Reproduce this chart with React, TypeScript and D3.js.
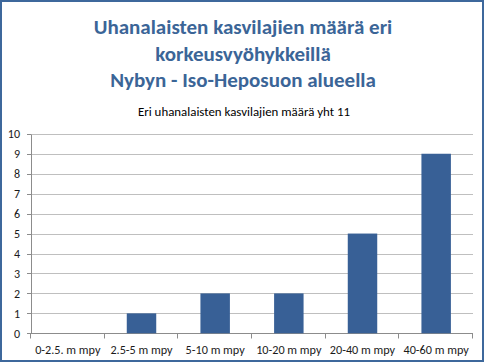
import React from 'react';
import * as d3 from 'd3';

const categories = ['0-2.5. m mpy', '2.5-5 m mpy', '5-10 m mpy', '10-20 m mpy', '20-40 m mpy', '40-60 m mpy'];
const counts = [0, 1, 2, 2, 5, 9];
const yTicks = [0, 1, 2, 3, 4, 5, 6, 7, 8, 9, 10];
const titleLines = ['Uhanalaisten kasvilajien määrä eri', 'korkeusvyöhykkeillä', 'Nybyn - Iso-Heposuon alueella'];
const subtitle = 'Eri uhanalaisten kasvilajien määrä yht 11';

const W = 487;
const H = 364;
const font = 'Carlito, Calibri, "Open Sans", sans-serif';

export default function App() {
  const x = d3.scaleBand().domain(categories).range([31, 473]).padding(0);
  const y = d3.scaleLinear().domain([0, 10]).range([333.3, 133.8]);
  const barW = x.bandwidth() * 0.4;
  const py = (v: number) => Math.round(y(v)) + 0.5;

  return (
    <svg width={W} height={H} style={{ position: 'absolute', left: 0, top: 0 }} fontFamily={font}>
      <rect x={0} y={0} width={W} height={H} fill="#fff" />
      <rect x={1} y={1} width={482} height={360} fill="none" stroke="#3d689c" strokeWidth={2} />
      {titleLines.map((t, i) => (
        <text key={t} x={243} y={34 + i * 26.5} textAnchor="middle" fontSize={21} fontWeight="bold" fill="#3b6597">
          {t}
        </text>
      ))}
      <text x={244} y={116} textAnchor="middle" fontSize={12.9} fill="#000">{subtitle}</text>

      {/* gridlines + y axis */}
      {yTicks.map(t => (
        <g key={t}>
          {t > 0 && <line x1={31} x2={473} y1={py(t)} y2={py(t)} stroke="#bfbfbf" />}
          <line x1={27} x2={31} y1={py(t)} y2={py(t)} stroke="#8c8c8c" />
          <text x={20} y={y(t) + 4.2} textAnchor="end" fontSize={12} fill="#1a1a1a">{t}</text>
        </g>
      ))}
      <line x1={31.5} x2={31.5} y1={py(10)} y2={py(0)} stroke="#8c8c8c" />
      <line x1={31} x2={473} y1={py(0)} y2={py(0)} stroke="#8c8c8c" />

      {/* x ticks */}
      {[...categories.map(c => x(c)!), 473].map((v, i) => (
        <line key={i} x1={Math.round(v) - 0.5} x2={Math.round(v) - 0.5} y1={py(0)} y2={py(0) + 5} stroke="#8c8c8c" />
      ))}

      {/* bars */}
      {categories.map((c, i) => (
        counts[i] > 0 ? (
          <rect key={c} x={x(c)! + (x.bandwidth() - barW) / 2} y={y(counts[i])} width={barW} height={y(0) - y(counts[i])} fill="#386096" />
        ) : null
      ))}

      {categories.map(c => (
        <text key={c} x={x(c)! + x.bandwidth() / 2} y={353.5} textAnchor="middle" fontSize={12.2} fill="#1a1a1a">{c}</text>
      ))}
    </svg>
  );
}
